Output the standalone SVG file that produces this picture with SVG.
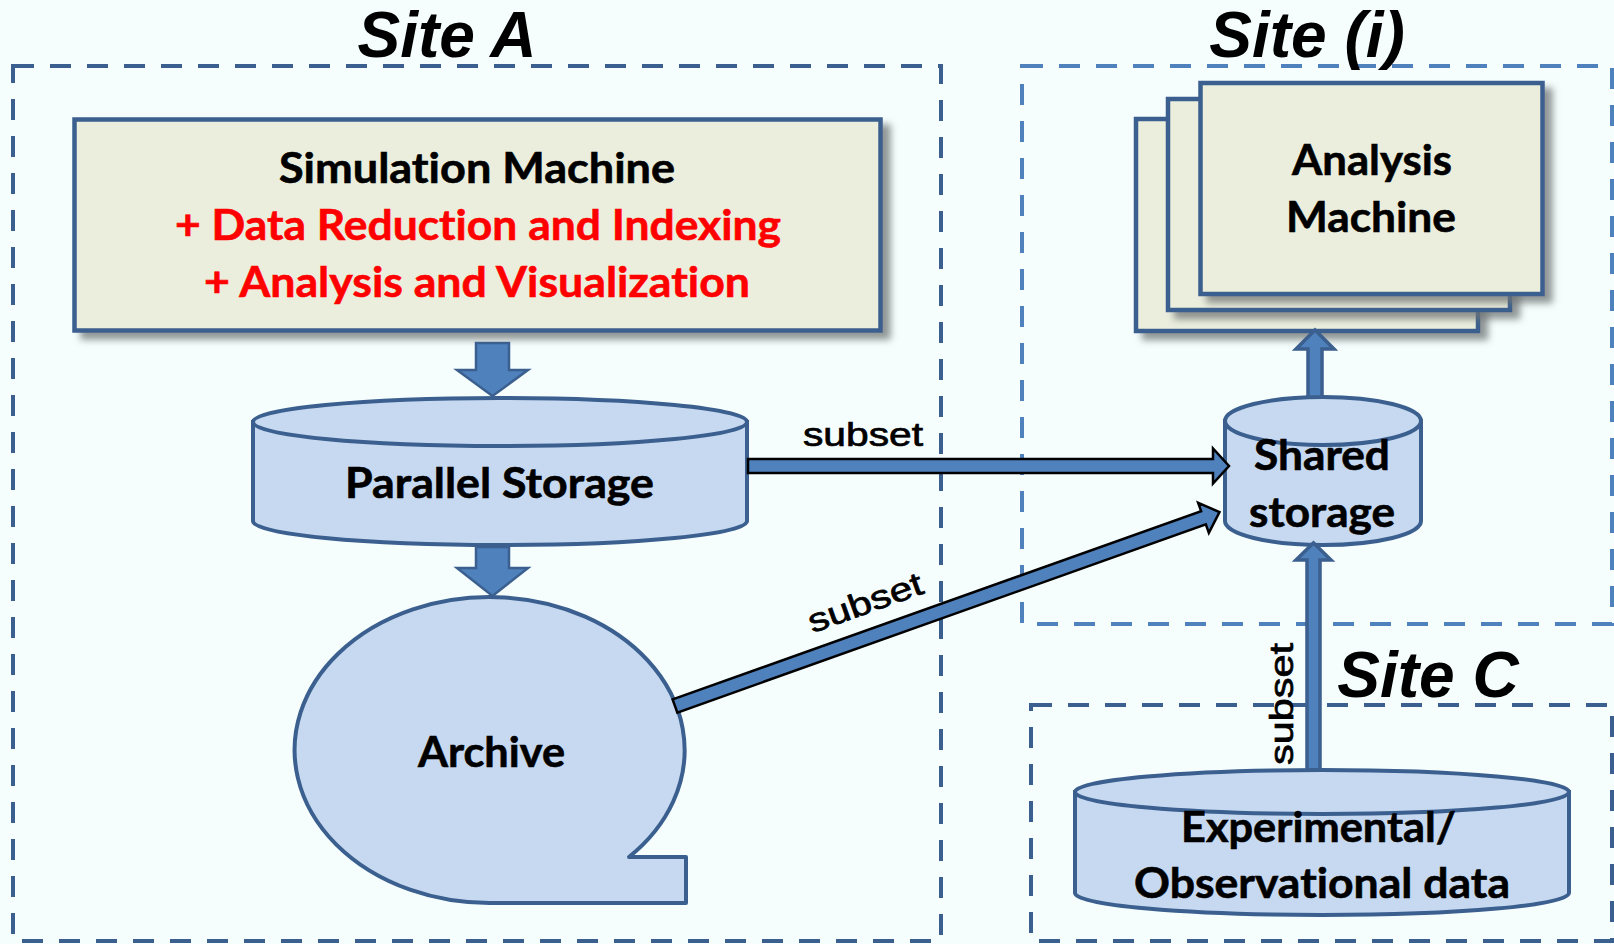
<svg xmlns="http://www.w3.org/2000/svg" width="1614" height="944" viewBox="0 0 1614 944">
  <style>
    .site { fill: none; stroke-width: 4; stroke-dasharray: 21 16; }
    .dark { stroke: #3b5f8e; }
    .light { stroke: #4f81bd; }
    .title { font-family: "Liberation Sans", Arial, sans-serif; font-weight: bold; font-style: italic; font-size: 64px; fill: #000; text-anchor: middle; }
    .box { fill: #ebeedd; stroke: #3b5f8e; stroke-width: 4.5; }
    .db { fill: #c6d9f0; stroke: #3b5f8e; stroke-width: 4; }
    .lbl { font-family: Lato, "Open Sans", sans-serif; font-weight: bold; font-size: 42px; fill: #000; stroke: #000; stroke-width: 0.6; text-anchor: middle; font-variant-ligatures: none; }
    .red { fill: #ff0000; stroke: #ff0000; }
    .flow { fill: #4f81bd; stroke: #3b5f8e; stroke-width: 2.5; stroke-linejoin: miter; }
    .flowup { fill: #4f81bd; stroke: #3b5f8e; stroke-width: 3.5; stroke-linejoin: miter; }
    .xfer { fill: #4f81bd; stroke: #000; stroke-width: 2.5; stroke-linejoin: miter; }
    .sub { font-family: "Liberation Sans", Arial, sans-serif; font-size: 33px; fill: #000; stroke: #000; stroke-width: 0.7; text-anchor: middle; }
  </style>
  <defs>
    <filter id="shadow" x="-5%" y="-5%" width="115%" height="120%">
      <feDropShadow dx="8" dy="7" stdDeviation="3.5" flood-color="#6f7575" flood-opacity="0.75"/>
    </filter>
  </defs>

  <rect width="1614" height="944" fill="#f5fdfd"/>

  <!-- site boundaries -->
  <g id="site-a">
    <rect class="site dark" x="13" y="66" width="928" height="875"/>
    <text class="title" x="447" y="57">Site A</text>
  </g>
  <g id="site-i">
    <rect class="site light" x="1022" y="66" width="590" height="558"/>
    <text class="title" x="1307" y="57">Site (i)</text>
  </g>
  <g id="site-c">
    <rect class="site dark" x="1031" y="705" width="581" height="236"/>
    <text class="title" x="1428" y="697">Site C</text>
  </g>

  <!-- simulation machine -->
  <g id="simulation-machine">
    <rect class="box" x="74.5" y="119.5" width="806" height="211" filter="url(#shadow)"/>
    <text class="lbl" x="477" y="183" textLength="396" lengthAdjust="spacingAndGlyphs">Simulation Machine</text>
    <text class="lbl red" x="478" y="240" textLength="606" lengthAdjust="spacingAndGlyphs">+ Data Reduction and Indexing</text>
    <text class="lbl red" x="477" y="297" textLength="546" lengthAdjust="spacingAndGlyphs">+ Analysis and Visualization</text>
  </g>

  <!-- parallel storage -->
  <g id="parallel-storage">
    <path class="db" d="M253,422 L253,521 A247,24 0 0 0 747,521 L747,422 Z"/>
    <ellipse class="db" cx="500" cy="422" rx="247" ry="24"/>
    <text class="lbl" x="499.5" y="498" textLength="309" lengthAdjust="spacingAndGlyphs">Parallel Storage</text>
  </g>

  <!-- archive (sequential storage) -->
  <g id="archive">
    <path class="db" d="M629,857 A195,153 0 1 0 492,903 L686,903 L686,857 Z" stroke-linejoin="round"/>
    <text class="lbl" x="491.5" y="767" textLength="147" lengthAdjust="spacingAndGlyphs">Archive</text>
  </g>

  <!-- analysis machines (stacked) -->
  <g id="analysis-machine">
    <rect class="box" x="1136" y="119" width="342" height="212" stroke-width="4" filter="url(#shadow)"/>
    <rect class="box" x="1168" y="99" width="342" height="211" stroke-width="4" filter="url(#shadow)"/>
    <rect class="box" x="1200.5" y="83" width="342" height="211" stroke-width="4" filter="url(#shadow)"/>
    <text class="lbl" x="1372" y="175" textLength="160" lengthAdjust="spacingAndGlyphs">Analysis</text>
    <text class="lbl" x="1371" y="232" textLength="170" lengthAdjust="spacingAndGlyphs">Machine</text>
  </g>

  <!-- shared storage -->
  <g id="shared-storage">
    <path class="db" d="M1225,421 L1225,521 A98,24 0 0 0 1421,521 L1421,421 Z"/>
    <ellipse class="db" cx="1323" cy="421" rx="98" ry="24"/>
    <text class="lbl" x="1322" y="470" textLength="136" lengthAdjust="spacingAndGlyphs">Shared</text>
    <text class="lbl" x="1322" y="527" textLength="146" lengthAdjust="spacingAndGlyphs">storage</text>
  </g>

  <!-- connectors -->
  <g id="connectors">
    <path class="flow" d="M476,343 L509,343 L509,370 L528,370 L492.5,396 L457,370 L476,370 Z"/>
    <path class="flow" d="M476,547 L509,547 L509,568 L528,568 L492.5,596 L457,568 L476,568 Z"/>
    <path class="xfer" d="M748,459 L1213,459 L1213,448.5 L1229,466 L1213,483.5 L1213,473 L748,473 Z"/>
    <text class="sub" x="863" y="446" textLength="120" lengthAdjust="spacingAndGlyphs">subset</text>
    <g transform="translate(675,706) rotate(-19.6)">
      <path class="xfer" d="M0,-7 L561,-7 L561,-16 L578,0 L561,16 L561,7 L0,7 Z"/>
    </g>
    <text class="sub" transform="translate(869,613) rotate(-19.6)" x="0" y="0" textLength="120" lengthAdjust="spacingAndGlyphs">subset</text>
    <path class="flowup" d="M1308,397 L1308,349 L1296,349 L1315,330 L1334,349 L1322,349 L1322,397 Z"/>
    <path class="flowup" d="M1307,770 L1307,560 L1296,560 L1313.5,543 L1331,560 L1320,560 L1320,770 Z"/>
    <text class="sub" transform="translate(1293,704) rotate(-90)" x="0" y="0" textLength="122" lengthAdjust="spacingAndGlyphs">subset</text>
  </g>

  <!-- experimental / observational data -->
  <g id="experimental-data">
    <path class="db" d="M1075,792 L1075,893 A247,22 0 0 0 1569,893 L1569,792 Z"/>
    <ellipse class="db" cx="1322" cy="792" rx="247" ry="22"/>
    <text class="lbl" x="1318.5" y="842" textLength="275" lengthAdjust="spacingAndGlyphs">Experimental/</text>
    <text class="lbl" x="1322" y="898" textLength="376" lengthAdjust="spacingAndGlyphs">Observational data</text>
  </g>
</svg>
